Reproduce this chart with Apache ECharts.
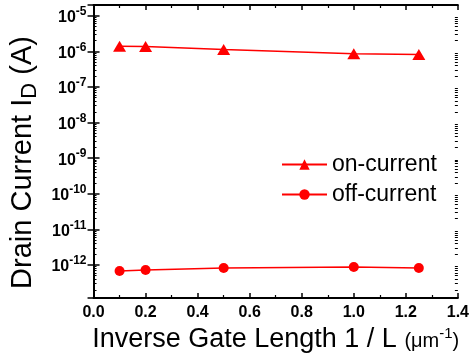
<!DOCTYPE html>
<html>
<head>
<meta charset="utf-8">
<script src="https://cdn.jsdelivr.net/npm/echarts@6/dist/echarts.min.js"></script>
<style>
  html, body { margin: 0; padding: 0; background: #fff; }
  #chart { width: 472px; height: 362px; }
</style>
</head>
<body>
<div id="chart"></div>
<script>
// Drain current vs inverse gate length, log-scale y.
const invLength = [0.1, 0.2, 0.5, 1.0, 1.25];
const onCurrent = [1.38e-6, 1.36e-6, 1.12e-6, 0.86e-6, 0.81e-6];
const offCurrent = [0.68e-12, 0.72e-12, 0.82e-12, 0.88e-12, 0.82e-12];

const Y_MIN = 1.18e-13;
const Y_MAX = 2e-5;
const FONT = "Liberation Sans, Arial, sans-serif";
const RED = "#ff0000";

// log minor ticks (2..9 per decade), as exponents for the overlay axes
const minorExp = [];
for (let d = -14; d <= -5; d++) {
  for (let k = 2; k <= 9; k++) minorExp.push(Math.log10(k) + d);
}

const isDecade = (v) => Math.abs(Math.log10(v) - Math.round(Math.log10(v))) < 1e-6;

const chart = echarts.init(document.getElementById("chart"));

const boxLine = { show: true, lineStyle: { color: "#000", width: 2 } };
const majorTick = (len) => ({ inside: true, length: len, lineStyle: { color: "#000", width: 1.5 } });

chart.setOption({
  animation: false,
  grid: { left: 87, right: 11, top: 5, bottom: 64 },
  legend: {
    orient: "vertical",
    left: 276,
    top: 148,
    itemWidth: 45,
    itemHeight: 13,
    itemGap: 7,
    textStyle: { color: "#000", fontSize: 23, lineHeight: 22, fontFamily: FONT },
    data: ["on-current", "off-current"],
  },
  xAxis: [
    {
      type: "value",
      min: 0,
      max: 1.4,
      interval: 0.2,
      position: "bottom",
      axisLine: boxLine,
      axisTick: majorTick(5),
      minorTick: { show: true, splitNumber: 2, length: 3, lineStyle: { color: "#000", width: 1.2 } },
      splitLine: { show: false },
      axisLabel: {
        margin: 7,
        color: "#000",
        fontSize: 16,
        fontWeight: "bold",
        fontFamily: FONT,
        formatter: (v) => v.toFixed(1),
      },
      name: "{t|Inverse Gate Length 1 / L }{u|(\u03bcm}{s|-1}{u|)}",
      nameLocation: "middle",
      nameGap: 25,
      nameTextStyle: {
        rich: {
          t: { fontSize: 27, fontFamily: FONT, color: "#000" },
          u: { fontSize: 20, fontFamily: FONT, color: "#000", padding: [5, 0, 0, 0] },
          s: { fontSize: 15, fontFamily: FONT, color: "#000", verticalAlign: "top", padding: [0, 0, 12, 0] },
        },
      },
    },
    {
      type: "value",
      min: 0,
      max: 1.4,
      interval: 0.2,
      position: "top",
      axisLine: boxLine,
      axisTick: majorTick(5),
      minorTick: { show: true, splitNumber: 2, length: 3, lineStyle: { color: "#000", width: 1.2 } },
      splitLine: { show: false },
      axisLabel: { show: false },
    },
  ],
  yAxis: [
    {
      type: "log",
      min: Y_MIN,
      max: Y_MAX,
      position: "left",
      axisLine: boxLine,
      axisTick: majorTick(6),
      splitLine: { show: false },
      axisLabel: {
        margin: 7,
        formatter: (v) => (isDecade(v) ? "{b|10}{s|" + Math.round(Math.log10(v)) + "}" : ""),
        rich: {
          b: { fontSize: 16, fontWeight: "bold", fontFamily: FONT, color: "#000", padding: [4, 0, 0, 0] },
          s: { fontSize: 12, fontWeight: "bold", fontFamily: FONT, color: "#000", verticalAlign: "top", padding: [0, 0, 8, 0] },
        },
      },
      name: "{t|Drain Current I}{d|D}{t| (A)}",
      nameLocation: "middle",
      nameGap: 51,
      nameRotate: 90,
      nameTextStyle: {
        padding: [0, 22, 0, 0],
        rich: {
          t: { fontSize: 29, fontFamily: FONT, color: "#000" },
          d: { fontSize: 22, fontFamily: FONT, color: "#000", padding: [14, 0, 0, 0] },
        },
      },
    },
    {
      type: "log",
      min: Y_MIN,
      max: Y_MAX,
      position: "right",
      axisLine: boxLine,
      axisTick: majorTick(6),
      splitLine: { show: false },
      axisLabel: { show: false },
    },
    {
      type: "value",
      min: Math.log10(Y_MIN),
      max: Math.log10(Y_MAX),
      position: "left",
      axisLine: { show: false },
      axisTick: { inside: true, length: 3, customValues: minorExp, lineStyle: { color: "#000", width: 1 } },
      splitLine: { show: false },
      axisLabel: { show: false },
    },
    {
      type: "value",
      min: Math.log10(Y_MIN),
      max: Math.log10(Y_MAX),
      position: "right",
      axisLine: { show: false },
      axisTick: { inside: true, length: 3, customValues: minorExp, lineStyle: { color: "#000", width: 1 } },
      splitLine: { show: false },
      axisLabel: { show: false },
    },
  ],
  series: [
    {
      name: "on-current",
      type: "line",
      data: invLength.map((x, i) => [x, onCurrent[i]]),
      symbol: "triangle",
      symbolSize: [13, 11],
      lineStyle: { color: RED, width: 1.5 },
      itemStyle: { color: RED },
    },
    {
      name: "off-current",
      type: "line",
      data: invLength.map((x, i) => [x, offCurrent[i]]),
      symbol: "circle",
      symbolSize: 10,
      lineStyle: { color: RED, width: 1.5 },
      itemStyle: { color: RED },
    },
  ],
});
</script>
</body>
</html>
